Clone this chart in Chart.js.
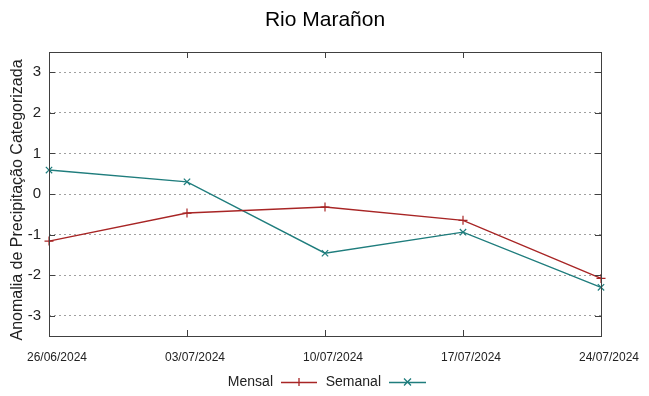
<!DOCTYPE html>
<html>
<head>
<meta charset="utf-8">
<script src="https://cdn.jsdelivr.net/npm/chart.js@4/dist/chart.umd.min.js"></script>
<style>
  html, body { margin: 0; padding: 0; background: #fff; }
  #wrap { width: 649px; height: 396px; position: relative; }
</style>
</head>
<body>
<div id="wrap"><canvas id="chart"></canvas></div>
<script>
// Data
const dates = ["26/06/2024", "03/07/2024", "10/07/2024", "17/07/2024", "24/07/2024"];
const mensal = [-1.16, -0.47, -0.32, -0.65, -2.08];
const semanal = [0.59, 0.30, -1.46, -0.94, -2.30];
const yTicks = [-3, -2, -1, 0, 1, 2, 3];

const FONT = "'Liberation Sans', Arial, sans-serif";
const redColor = "#a82525";
const tealColor = "#1f7d7d";

// Frame, inward ticks, title, axis title and legend (gnuplot look)
const gnuplotFrame = {
  id: "gnuplotFrame",
  afterDraw(chart) {
    const ctx = chart.ctx;
    const area = chart.chartArea;
    const xs = chart.scales.x;
    const ys = chart.scales.y;
    ctx.save();
    ctx.strokeStyle = "#404040";
    ctx.lineWidth = 1;
    ctx.strokeRect(area.left + 0.5, area.top + 0.5, area.right - area.left, area.bottom - area.top);

    ctx.beginPath();
    yTicks.forEach(v => {
      const y = Math.round(ys.getPixelForValue(v)) + 0.5;
      ctx.moveTo(area.left, y); ctx.lineTo(area.left + 6, y);
      ctx.moveTo(area.right, y); ctx.lineTo(area.right - 6, y);
    });
    dates.forEach((d, i) => {
      const x = Math.round(xs.getPixelForValue(i)) + 0.5;
      ctx.moveTo(x, area.bottom); ctx.lineTo(x, area.bottom - 6);
      ctx.moveTo(x, area.top); ctx.lineTo(x, area.top + 6);
    });
    ctx.stroke();

    // title
    ctx.fillStyle = "#000";
    ctx.font = "21px " + FONT;
    ctx.textAlign = "center";
    ctx.textBaseline = "middle";
    ctx.fillText("Rio Marañon", (area.left + area.right) / 2, 20);

    // y axis title
    ctx.save();
    ctx.translate(18, (area.top + area.bottom) / 2 + 6);
    ctx.rotate(-Math.PI / 2);
    ctx.font = "16px " + FONT;
    ctx.fillStyle = "#222";
    ctx.fillText("Anomalia de Precipitação Categorizada", 0, 0);
    ctx.restore();

    // legend
    const ly = 382;
    ctx.font = "14px " + FONT;
    ctx.textAlign = "right";
    const items = [
      { label: chart.data.datasets[0].label, color: redColor, textRight: 273, x0: 281, x1: 317, mark: "plus" },
      { label: chart.data.datasets[1].label, color: tealColor, textRight: 381, x0: 389, x1: 426, mark: "x" }
    ];
    items.forEach(it => {
      ctx.fillStyle = "#222";
      ctx.fillText(it.label, it.textRight, ly);
      ctx.strokeStyle = it.color;
      ctx.lineWidth = 1.3;
      ctx.beginPath();
      ctx.moveTo(it.x0, ly + 0.5); ctx.lineTo(it.x1, ly + 0.5);
      const cx = (it.x0 + it.x1) / 2;
      if (it.mark === "plus") {
        ctx.moveTo(cx, ly - 4); ctx.lineTo(cx, ly + 4);
      } else {
        ctx.moveTo(cx - 3.5, ly - 3.5); ctx.lineTo(cx + 3.5, ly + 3.5);
        ctx.moveTo(cx - 3.5, ly + 3.5); ctx.lineTo(cx + 3.5, ly - 3.5);
      }
      ctx.stroke();
    });
    ctx.restore();
  }
};

new Chart(document.getElementById("chart"), {
  type: "line",
  data: {
    labels: dates,
    datasets: [
      {
        label: "Mensal",
        data: mensal,
        borderColor: redColor,
        backgroundColor: redColor,
        borderWidth: 1.4,
        pointStyle: "cross",
        pointRadius: 4.5,
        pointBorderWidth: 1.2,
        tension: 0
      },
      {
        label: "Semanal",
        data: semanal,
        borderColor: tealColor,
        backgroundColor: tealColor,
        borderWidth: 1.4,
        pointStyle: "crossRot",
        pointRadius: 4.5,
        pointBorderWidth: 1.2,
        tension: 0
      }
    ]
  },
  options: {
    responsive: true,
    maintainAspectRatio: false,
    animation: false,
    layout: { padding: { top: 52, right: 48, left: 0, bottom: 0 } },
    plugins: {
      legend: { display: false },
      tooltip: { enabled: false }
    },
    scales: {
      x: {
        type: "category",
        offset: false,
        afterFit: s => { s.height = 60; },
        grid: { display: false, drawTicks: false },
        border: { display: false },
        ticks: {
          autoSkip: false,
          maxRotation: 0,
          padding: 14,
          labelOffset: 8,
          color: "#222",
          font: { family: FONT, size: 12 }
        }
      },
      y: {
        min: -3.5,
        max: 3.5,
        afterFit: s => { s.width = 49; },
        afterBuildTicks: s => { s.ticks = yTicks.map(v => ({ value: v })); },
        grid: {
          color: "#a0a0a0",
          lineWidth: 1,
          drawTicks: false
        },
        border: { display: false, dash: [2, 3] },
        ticks: {
          padding: 8,
          color: "#222",
          font: { family: FONT, size: 15 }
        }
      }
    }
  },
  plugins: [gnuplotFrame]
});
</script>
</body>
</html>
